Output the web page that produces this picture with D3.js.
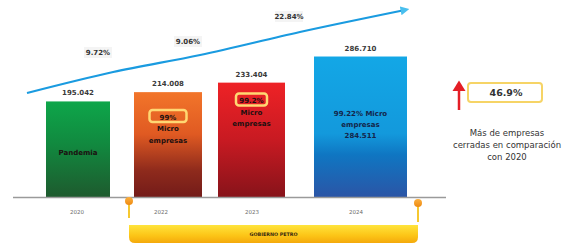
<!DOCTYPE html>
<html>
<head>
<meta charset="utf-8">
<script src="https://cdn.jsdelivr.net/npm/d3@7"></script>
<style>
  body { margin: 0; background: #fff; }
  svg { display: block; font-family: "DejaVu Sans", Verdana, sans-serif; }
</style>
</head>
<body>
<script>
// chart data
const years = ["2020", "2022", "2023", "2024"];
const closures = [195042, 214008, 233404, 286710];
const valueLabels = ["195.042", "214.008", "233.404", "286.710"];
const barNotes = [
    ["Pandemia"],
    ["99%", "Micro", "empresas"],
    ["99.2%", "Micro", "empresas"],
    ["99.22% Micro", "empresas", "284.511"]
];
const boxedFirst = [false, true, true, false];
const growth = ["9.72%", "9.06%", "22.84%"];
const trendT = [0, 0.228, 0.458, 0.722, 1];
const trendV = [0, 0.253, 0.458, 0.735, 1];
const total = "46.9%";
const caption = ["Más de empresas", "cerradas en comparación", "con 2020"];
const band = "GOBIERNO PETRO";

const width = 571, height = 245;
const base = 197;

const svg = d3.select("body").append("svg")
    .attr("width", width)
    .attr("height", height);

const defs = svg.append("defs");

function grad(id, stops) {
    const g = defs.append("linearGradient").attr("id", id)
        .attr("x1", 0).attr("y1", 0).attr("x2", 0).attr("y2", 1);
    stops.forEach(s => g.append("stop").attr("offset", s[0]).attr("stop-color", s[1]));
}
grad("g2020", [[0, "#0ea64a"], [0.45, "#11893f"], [1, "#1e5a2e"]]);
grad("g2022", [[0, "#f2752a"], [0.4, "#e05a22"], [0.75, "#8e2a1c"], [1, "#731b19"]]);
grad("g2023", [[0, "#ee2226"], [0.5, "#c81a22"], [1, "#87131a"]]);
grad("g2024", [[0, "#13a7e6"], [0.55, "#1399dc"], [0.7, "#0f76c2"], [1, "#2b55a6"]]);
grad("gBand", [[0, "#ffe43c"], [0.6, "#fcc416"], [1, "#f4a90c"]]);
grad("gPin", [[0, "#fbb040"], [1, "#ee8a12"]]);

// scales
const x = d3.scaleOrdinal().domain(years).range([46, 134, 218, 314]);
const w = d3.scaleOrdinal().domain(years).range([64, 68, 67, 93]);
const y = d3.scaleLinear().domain([0, 300000]).range([base, base - 147]);
const cx = d => x(d) + w(d) / 2;

// trend arrow scales
const xT = d3.scaleLinear().domain([0, 1]).range([27, 405]);
const yT = d3.scaleLinear().domain([0, 1]).range([93, 10]);

// bars
const bars = svg.selectAll(".bar")
    .data(years.map((yr, i) => ({ yr, v: closures[i], i })))
    .enter().append("g").attr("class", "bar");

bars.append("rect")
    .attr("x", d => x(d.yr))
    .attr("y", d => y(d.v))
    .attr("width", d => w(d.yr))
    .attr("height", d => base - y(d.v))
    .attr("fill", d => "url(#g" + d.yr + ")");

// value labels
bars.append("text")
    .attr("x", d => cx(d.yr))
    .attr("y", d => y(d.v) - 6)
    .attr("text-anchor", "middle")
    .attr("font-size", 7)
    .attr("font-weight", "bold")
    .attr("fill", "#3a3a3a")
    .text(d => valueLabels[d.i]);

// notes inside bars
const noteTop = d3.scaleOrdinal().domain(years).range([155, 119.5, 103, 116]);
const noteGap = d3.scaleOrdinal().domain(years).range([0, 11.5, 11.5, 11]);

bars.each(function(d) {
    const g = d3.select(this);
    const lines = barNotes[d.i];
    if (boxedFirst[d.i]) {
        const bw = d.yr === "2022" ? 37 : 31;
        g.append("rect")
            .attr("x", cx(d.yr) - bw / 2)
            .attr("y", noteTop(d.yr) - 9.5)
            .attr("width", bw)
            .attr("height", 12)
            .attr("rx", 3)
            .attr("fill", "none")
            .attr("stroke", "#ffd772")
            .attr("stroke-width", 2.5);
    }
    lines.forEach((t, k) => {
        g.append("text")
            .attr("x", cx(d.yr))
            .attr("y", noteTop(d.yr) + k * noteGap(d.yr))
            .attr("text-anchor", "middle")
            .attr("font-size", 7)
            .attr("font-weight", "bold")
            .attr("fill", d.yr === "2024" ? "#14254a" : "#1c1010")
            .text(t);
    });
});

// baseline
svg.append("line")
    .attr("x1", 13).attr("x2", 446)
    .attr("y1", base + 0.5).attr("y2", base + 0.5)
    .attr("stroke", "#9a9a9a")
    .attr("stroke-width", 1.5);

// year labels
const yearX = d3.scaleOrdinal().domain(years).range([77, 161, 252, 356]);
svg.selectAll(".year")
    .data(years)
    .enter().append("text")
    .attr("x", d => yearX(d))
    .attr("y", 214)
    .attr("text-anchor", "middle")
    .attr("font-size", 5.5)
    .attr("fill", "#6a6a6a")
    .text(d => d);

// government band
svg.append("path")
    .attr("d", () => {
        const x0 = 129, x1 = 418, y0 = 225, y1 = 243, r = 6;
        return `M${x0},${y0}H${x1}V${y1 - r}Q${x1},${y1} ${x1 - r},${y1}H${x0 + r}Q${x0},${y1} ${x0},${y1 - r}Z`;
    })
    .attr("fill", "url(#gBand)");
svg.append("text")
    .attr("x", 273.5).attr("y", 236)
    .attr("text-anchor", "middle")
    .attr("font-size", 4.8)
    .attr("font-weight", "bold")
    .attr("fill", "#3a2a10")
    .text(band);

// pins
[[129, 201, 218], [418, 203, 222]].forEach(p => {
    svg.append("line")
        .attr("x1", p[0]).attr("x2", p[0])
        .attr("y1", p[1]).attr("y2", p[2])
        .attr("stroke", "#f5c21a").attr("stroke-width", 1.8);
    svg.append("circle")
        .attr("cx", p[0]).attr("cy", p[1]).attr("r", 4)
        .attr("fill", "url(#gPin)");
});

// trend arrow
defs.append("marker")
    .attr("id", "head")
    .attr("viewBox", "0 0 10 10")
    .attr("refX", 5).attr("refY", 5)
    .attr("markerWidth", 4).attr("markerHeight", 4)
    .attr("orient", "auto")
    .append("path").attr("d", "M0,0L10,5L0,10Z").attr("fill", "#49bfee");

const line = d3.line()
    .x(d => xT(d[0]))
    .y(d => yT(d[1]))
    .curve(d3.curveMonotoneX);
svg.append("path")
    .datum(trendT.map((t, i) => [t, trendV[i]]))
    .attr("d", line)
    .attr("fill", "none")
    .attr("stroke", "#1a9be0")
    .attr("stroke-width", 2.2)
    .attr("marker-end", "url(#head)");

// growth labels
const growthPos = d3.scaleOrdinal().domain(growth).range([[98, 55], [188, 44], [289, 19]]);
growth.forEach(g => {
    const p = growthPos(g);
    svg.append("rect")
        .attr("x", p[0] - 14).attr("y", p[1] - 8)
        .attr("width", 28).attr("height", 11)
        .attr("fill", "#f4f4f4");
    svg.append("text")
        .attr("x", p[0]).attr("y", p[1])
        .attr("text-anchor", "middle")
        .attr("font-size", 7)
        .attr("font-weight", "bold")
        .attr("fill", "#333")
        .text(g);
});

// right side: red arrow + total box
svg.append("line")
    .attr("x1", 459).attr("x2", 459)
    .attr("y1", 110).attr("y2", 90)
    .attr("stroke", "#e41e26").attr("stroke-width", 2.5);
svg.append("path")
    .attr("d", "M452.5,91L459,80.5L465.5,91Z")
    .attr("fill", "#e41e26");

svg.append("rect")
    .attr("x", 468).attr("y", 83)
    .attr("width", 74).attr("height", 19)
    .attr("rx", 3)
    .attr("fill", "#fff")
    .attr("stroke", "#f6d466").attr("stroke-width", 2);
svg.append("text")
    .attr("x", 506).attr("y", 96)
    .attr("text-anchor", "middle")
    .attr("font-size", 9.5)
    .attr("font-weight", "bold")
    .attr("fill", "#333")
    .text(total);

svg.selectAll(".cap")
    .data(caption)
    .enter().append("text")
    .attr("x", 507)
    .attr("y", (d, i) => 136 + i * 12)
    .attr("text-anchor", "middle")
    .attr("font-size", 8.5)
    .attr("fill", "#333")
    .text(d => d);
</script>
</body>
</html>
